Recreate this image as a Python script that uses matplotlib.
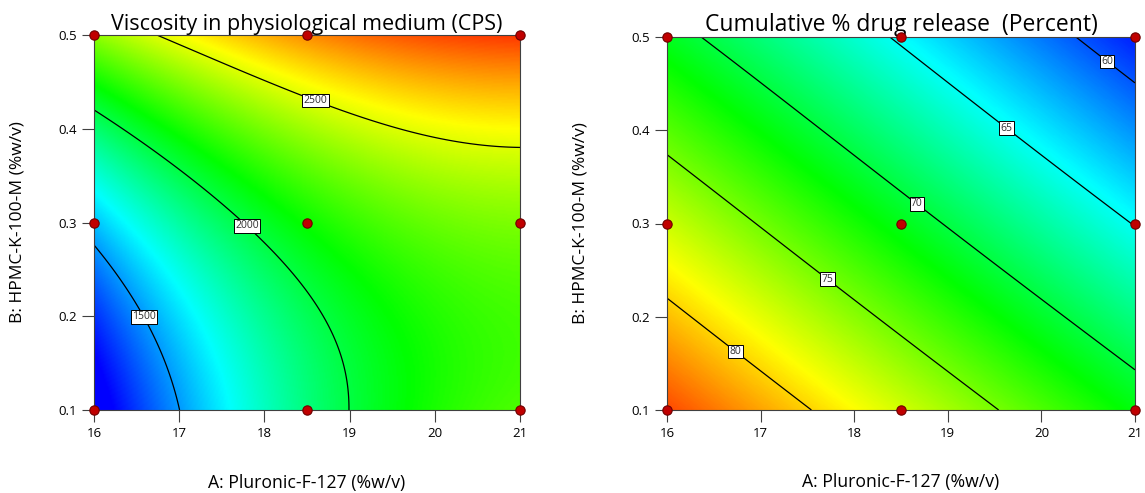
import numpy as np
import matplotlib.pyplot as plt
from matplotlib.colors import LinearSegmentedColormap

plt.rcParams['font.family'] = ['Open Sans', 'DejaVu Sans']

# design levels (3x3 factorial)
pluronic = [16, 18.5, 21]
hpmc = [0.1, 0.3, 0.5]

# predicted responses at the design points
# rows: HPMC 0.1 / 0.3 / 0.5, cols: Pluronic 16 / 18.5 / 21
viscosity = [[1150, 1900, 2245],
             [1570, 2130, 2330],
             [2360, 2750, 2900]]
release = [[83.9, 77.6, 71.4],
           [77.4, 71.1, 64.9],
           [70.9, 64.7, 58.4]]

# colour scale limits
visc_range = (1230, 3000)
rel_range = (57.5, 86)

visc_levels = [1500, 2000, 2500]
rel_levels = [60, 65, 70, 75, 80]
visc_label_pos = [(16.6, 0.2), (17.8, 0.297), (18.6, 0.43)]
rel_label_pos = [(20.75, 0.48), (19.65, 0.405), (18.7, 0.325), (17.75, 0.245), (16.75, 0.165)]

titles = ['Viscosity in physiological medium (CPS)', 'Cumulative % drug release  (Percent)']
xlabel = 'A: Pluronic-F-127 (%w/v)'
ylabel = 'B: HPMC-K-100-M (%w/v)'

cmap = LinearSegmentedColormap.from_list(
    'de', ['#0000ff', '#00ffff', '#00ff00', '#ffff00', '#ff0000'])


def terms(x, y):
    a = (x - np.mean(pluronic)) / ((max(pluronic) - min(pluronic)) / 2)
    b = (y - np.mean(hpmc)) / ((max(hpmc) - min(hpmc)) / 2)
    return np.stack([np.ones_like(a), a, b, a * b, a ** 2, b ** 2,
                     a ** 2 * b, a * b ** 2, a ** 2 * b ** 2], axis=-1)


def surface(values, gx, gy):
    xd, yd = np.meshgrid(pluronic, hpmc)
    coef = np.linalg.lstsq(terms(xd.ravel().astype(float), yd.ravel()),
                           np.ravel(values), rcond=None)[0]
    return terms(gx, gy) @ coef


gx, gy = np.meshgrid(np.linspace(min(pluronic), max(pluronic), 300),
                     np.linspace(min(hpmc), max(hpmc), 300))

fig = plt.figure(figsize=(11.45, 4.93), dpi=100)
ax1 = fig.add_axes([94 / 1145, 83 / 493, 426 / 1145, 375 / 493])
ax2 = fig.add_axes([667 / 1145, 83 / 493, 468 / 1145, 373 / 493])

panels = [(ax1, viscosity, visc_range, visc_levels, visc_label_pos, -0.16, 15.5),
          (ax2, release, rel_range, rel_levels, rel_label_pos, -0.167, 16.5)]

for i, (ax, vals, vr, levels, lpos, ylx, tsize) in enumerate(panels):
    z = surface(vals, gx, gy)
    ax.imshow(z, extent=[min(pluronic), max(pluronic), min(hpmc), max(hpmc)],
              origin='lower', aspect='auto', cmap=cmap,
              vmin=vr[0], vmax=vr[1], interpolation='bilinear')
    cs = ax.contour(gx, gy, z, levels=levels, colors='black', linewidths=0.9)
    labels = ax.clabel(cs, inline=False, manual=lpos, fmt='%d', fontsize=7.5)
    for t in labels:
        t.set_rotation(0)
        t.set_color('#303030')
        t.set_bbox(dict(boxstyle='square,pad=0.12', fc='white', ec='black', lw=0.7))
        t.set_zorder(6)

    xd, yd = np.meshgrid(pluronic, hpmc)
    ax.scatter(xd.ravel(), yd.ravel(), s=45, c='#c00000', edgecolors='#700000',
               linewidths=0.8, zorder=7, clip_on=False)

    ax.set_xlim(min(pluronic), max(pluronic))
    ax.set_ylim(min(hpmc), max(hpmc))
    ax.set_xticks([16, 17, 18, 19, 20, 21])
    ax.set_yticks([0.1, 0.2, 0.3, 0.4, 0.5])
    ax.tick_params(direction='out', length=8.5, width=0.8, color='#404040',
                   labelsize=9.5, pad=4)
    for s in ax.spines.values():
        s.set_color('#404040')
        s.set_linewidth(0.8)

    ax.set_title(titles[i], fontsize=tsize, pad=2)
    ax.set_xlabel(xlabel, fontsize=12.7)
    ax.xaxis.set_label_coords(0.5, -0.17)
    ax.set_ylabel(ylabel, fontsize=12.5)
    ax.yaxis.set_label_coords(ylx, 0.5)

fig.savefig('out.png', dpi=100)
